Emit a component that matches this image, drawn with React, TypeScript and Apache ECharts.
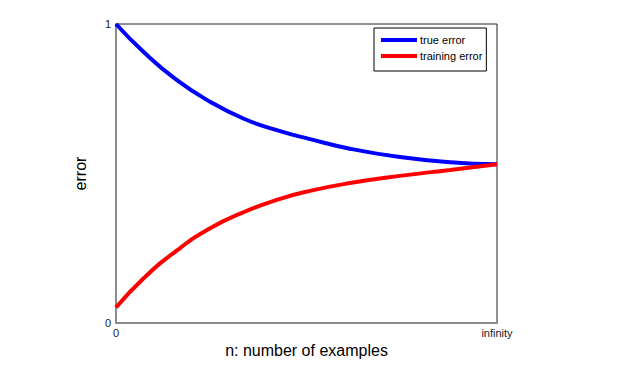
import React, { useEffect, useRef } from "react";
import * as echarts from "echarts";

const xPositions = [0, 0.072, 0.159, 0.247, 0.334, 0.422, 0.509, 0.614, 0.745, 0.877, 1];
const trueError = [1, 0.907, 0.813, 0.74, 0.684, 0.645, 0.615, 0.583, 0.555, 0.538, 0.531];
const trainingError = [0.052, 0.149, 0.242, 0.317, 0.37, 0.412, 0.442, 0.468, 0.492, 0.512, 0.531];
const seriesNames = ["true error", "training error"];
const xTickLabels = ["0", "infinity"];
const yTickLabels = ["0", "1"];
const xAxisTitle = "n: number of examples";
const yAxisTitle = "error";

const FONT = "'Liberation Sans', Arial, sans-serif";

export default function App() {
  const ref = useRef<HTMLDivElement>(null);
  useEffect(() => {
    if (!ref.current) return;
    const chart = echarts.init(ref.current, null, { renderer: "svg" });
    chart.setOption({
      animation: false,
      backgroundColor: "#ffffff",
      textStyle: { fontFamily: FONT },
      grid: {
        left: 116,
        top: 24,
        width: 381,
        height: 299,
        show: true,
        borderColor: "#222",
        borderWidth: 1,
        backgroundColor: "transparent",
      },
      legend: {
        orient: "vertical",
        left: 374,
        top: 28,
        padding: [6, 4, 9, 7],
        itemGap: 4,
        itemWidth: 36,
        itemHeight: 4,
        itemStyle: { borderWidth: 0 },
        icon: "rect",
        borderColor: "#000",
        borderWidth: 1,
        backgroundColor: "#fff",
        textStyle: { fontSize: 11, lineHeight: 12, height: 12, color: "#000", fontFamily: FONT, padding: [0, 0, 0, -2] },
        data: seriesNames,
      },
      xAxis: {
        type: "value",
        min: 0,
        max: 1,
        interval: 1,
        name: xAxisTitle,
        nameLocation: "middle",
        nameGap: 10,
        nameTextStyle: { fontSize: 16, color: "#000", fontFamily: FONT },
        axisLine: { show: true, lineStyle: { color: "#8c8c8c", width: 2 } },
        axisTick: { show: false },
        splitLine: { show: false },
        axisLabel: {
          show: true,
          margin: 4,
          fontSize: 11,
          color: "#222",
          showMinLabel: true,
          showMaxLabel: true,
          formatter: (v: number) => (v === 0 ? xTickLabels[0] : v === 1 ? xTickLabels[1] : ""),
        },
      },
      yAxis: {
        type: "value",
        min: 0,
        max: 1,
        interval: 1,
        name: yAxisTitle,
        nameLocation: "middle",
        nameGap: 28,
        nameTextStyle: { fontSize: 16, color: "#000", fontFamily: FONT },
        axisLine: { show: true, lineStyle: { color: "#8c8c8c", width: 2 } },
        axisTick: { show: false },
        splitLine: { show: false },
        axisLabel: {
          show: true,
          margin: 5,
          fontSize: 11,
          color: "#222",
          formatter: (v: number) => (v === 0 ? yTickLabels[0] : v === 1 ? yTickLabels[1] : ""),
        },
      },
      series: [
        {
          name: seriesNames[0],
          type: "line",
          smooth: 0.5,
          showSymbol: false,
          symbol: "none",
          color: "#0000ff",
          lineStyle: { color: "#0000ff", width: 4 },
          data: xPositions.map((x, i) => [x, trueError[i]]),
        },
        {
          name: seriesNames[1],
          type: "line",
          smooth: 0.5,
          showSymbol: false,
          symbol: "none",
          color: "#ff0000",
          lineStyle: { color: "#ff0000", width: 4 },
          data: xPositions.map((x, i) => [x, trainingError[i]]),
        },
      ],
    });
    return () => chart.dispose();
  }, []);
  return (
    <div
      ref={ref}
      style={{ position: "fixed", left: 0, top: 0, width: 620, height: 375 }}
    />
  );
}
